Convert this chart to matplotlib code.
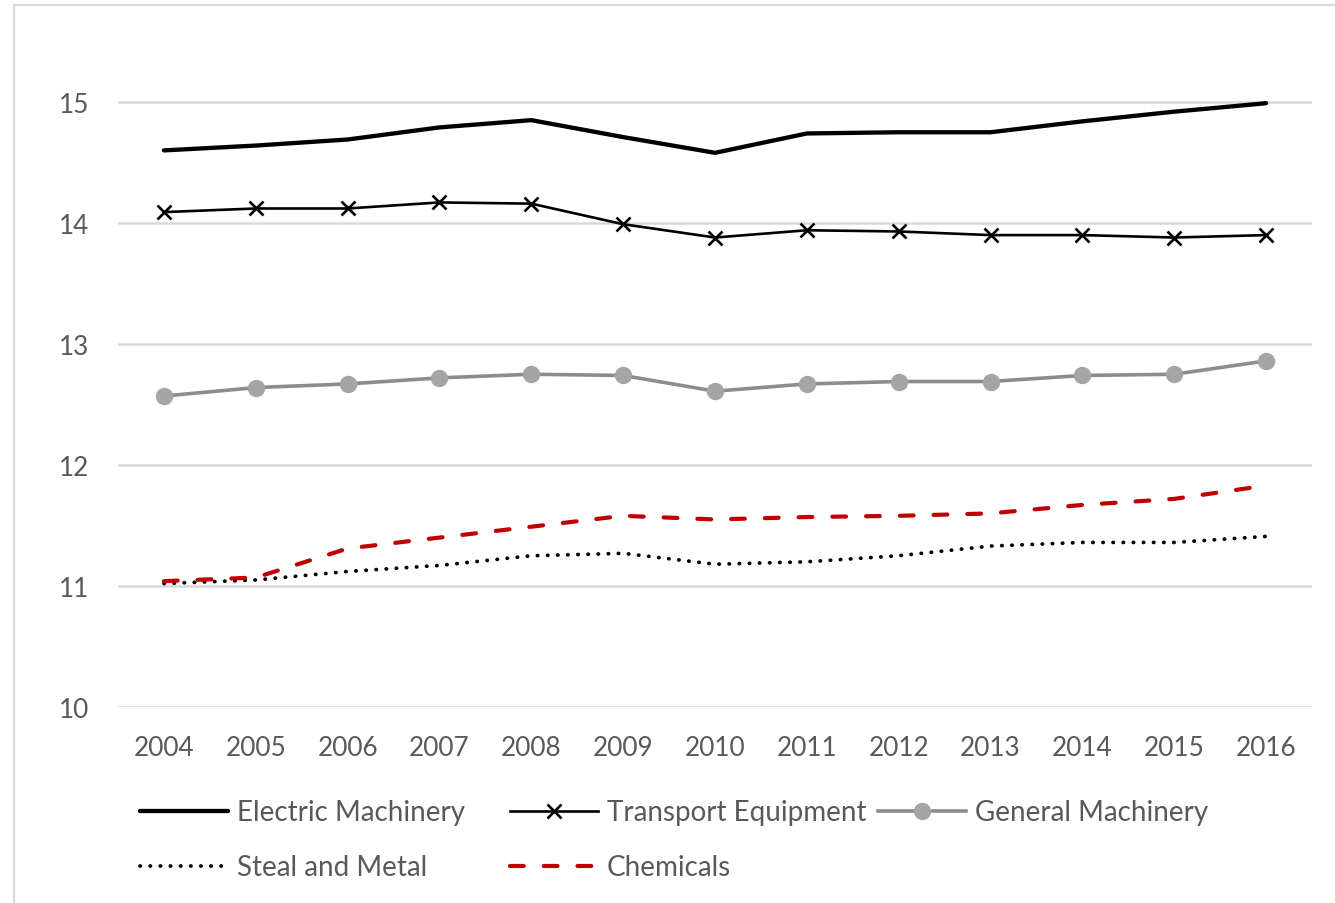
import matplotlib
matplotlib.use("Agg")
import matplotlib.pyplot as plt
from matplotlib.lines import Line2D
from matplotlib.patches import Rectangle

years = ["2004", "2005", "2006", "2007", "2008", "2009", "2010",
         "2011", "2012", "2013", "2014", "2015", "2016"]
electric = [14.60, 14.64, 14.69, 14.79, 14.85, 14.71, 14.58, 14.74, 14.75, 14.75, 14.84, 14.92, 14.99]
transport = [14.09, 14.12, 14.12, 14.17, 14.16, 13.99, 13.88, 13.94, 13.93, 13.90, 13.90, 13.88, 13.90]
general = [12.57, 12.64, 12.67, 12.72, 12.75, 12.74, 12.61, 12.67, 12.69, 12.69, 12.74, 12.75, 12.86]
steal = [11.02, 11.05, 11.12, 11.17, 11.25, 11.27, 11.18, 11.20, 11.25, 11.33, 11.36, 11.36, 11.41]
chemicals = [11.04, 11.07, 11.31, 11.40, 11.49, 11.58, 11.55, 11.57, 11.58, 11.60, 11.67, 11.72, 11.83]
yticks = [10, 11, 12, 13, 14, 15]

FONT = "Lato"
TXT = "#595959"
W, H = 1335, 904
fig = plt.figure(figsize=(W / 100, H / 100), dpi=100)
plt.rcParams['font.family'] = [FONT, 'DejaVu Sans']

ymax = 15.6
top_px = 103 - (ymax - 15) * 121
ax = fig.add_axes([118 / W, 1 - 708 / H, (1312 - 118) / W, (708 - top_px) / H])
x = list(range(len(years)))

specs = [
    ("Electric Machinery", electric, dict(color="black", lw=3.1, solid_capstyle="round")),
    ("Transport Equipment", transport, dict(color="black", lw=1.9, marker="x", markersize=10,
                                            markeredgewidth=1.9)),
    ("General Machinery", general, dict(color="#8C8C8C", lw=2.6, marker="o", markersize=11.5,
                                        markerfacecolor="#A5A5A5", markeredgecolor="#A5A5A5")),
    ("Steal and Metal", steal, dict(color="black", lw=2.7, linestyle=(0, (0.1, 2.6)),
                                    dash_capstyle="round")),
    ("Chemicals", chemicals, dict(color="#C00000", lw=3.0, linestyle=(0, (3.3, 4.8)),
                                  dash_capstyle="round")),
]
for name, vals, kw in specs:
    ax.plot(x, vals, **kw, zorder=3)

ax.set_xlim(-0.5, len(years) - 0.5)
ax.set_ylim(10, ymax)
ax.set_yticks(yticks)
ax.set_xticks(x)
ax.set_xticklabels(years)
ax.grid(axis="y", color="#D9D9D9", lw=1.8, zorder=0)
for s in ax.spines.values():
    s.set_visible(False)
ax.tick_params(axis="both", length=0, labelsize=18.8, labelcolor=TXT)
ax.tick_params(axis="x", pad=20)
ax.tick_params(axis="y", pad=21)

# chart border
fig.add_artist(Rectangle((14 / W, -0.1), 1.2, 1 - 6 / H + 0.1, transform=fig.transFigure,
                         fill=False, edgecolor="#D9D9D9", lw=1.6))

# legend drawn manually (Excel fixed-width cells)
def fx(px):
    return px / W

def fy(py):
    return 1 - py / H

entries = [
    (140, 812, specs[0]), (510, 812, specs[1]), (878, 812, specs[2]),
    (140, 867, specs[3]), (510, 867, specs[4]),
]
for x0, y0, (name, vals, kw) in entries:
    lkw = {k: v for k, v in kw.items() if k not in ("marker", "markersize", "markeredgewidth",
                                                     "markerfacecolor", "markeredgecolor")}
    fig.add_artist(Line2D([fx(x0), fx(x0 + 88)], [fy(y0), fy(y0)], transform=fig.transFigure, **lkw))
    if "marker" in kw:
        mk = {k: kw[k] for k in ("marker", "markersize", "markeredgewidth",
                                 "markerfacecolor", "markeredgecolor") if k in kw}
        fig.add_artist(Line2D([fx(x0 + 44)], [fy(y0)], transform=fig.transFigure, linestyle="none",
                              color=kw["color"], **mk))
    fig.text(fx(x0 + 97), fy(y0 + 1), name, fontsize=20, color=TXT, va="center", ha="left")

fig.savefig("out.png", dpi=100)
